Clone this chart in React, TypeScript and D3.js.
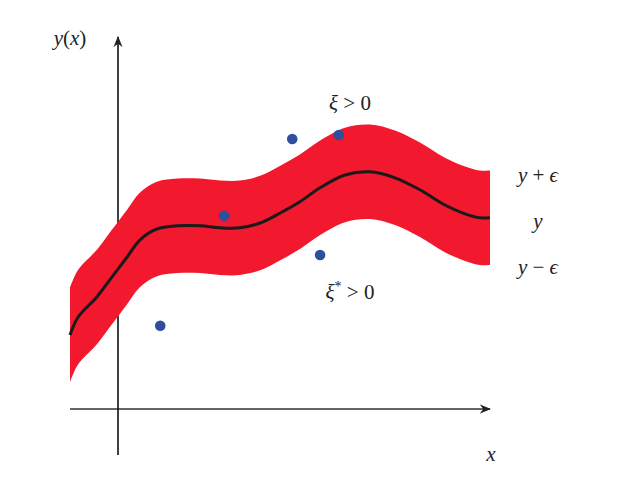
import React from 'react'
import * as d3 from 'd3'

// 曲线 y(x)
const curveX = [-1, -0.83, -0.44, -0.17, 0.19, 0.46, 0.81, 1.23, 1.71, 2.13, 2.54, 2.96, 3.38, 3.79, 4.21, 4.73, 5.25, 5.77, 6.29, 6.81, 7.23, 7.54, 7.75]
const curveY = [1.85, 2.3, 2.8, 3.23, 3.8, 4.23, 4.5, 4.58, 4.58, 4.53, 4.53, 4.65, 4.9, 5.18, 5.53, 5.85, 5.93, 5.78, 5.48, 5.1, 4.88, 4.78, 4.78]
const epsilon = 1.18

// 样本点
const pointX = [0.88, 2.21, 3.63, 4.6, 4.21]
const pointY = [2.08, 4.83, 6.75, 6.85, 3.85]

// 标签片段: [文字, 样式] 样式: i=斜体, n=正体, s=上标
type Part = [string, string]
const labels: Part[][] = [
  [['y', 'i'], [' + ', 'n'], ['ϵ', 'i']],
  [['y', 'i']],
  [['y', 'i'], [' − ', 'n'], ['ϵ', 'i']],
]

class App extends React.Component {
  svg: SVGSVGElement | null = null

  componentDidMount() {
    const width = 639
    const height = 480
    const x = d3.scaleLinear().domain([-1, 7.75]).range([70, 490])
    const y = d3.scaleLinear().domain([0, 9.3]).range([409, 37])

    const chart = d3.select(this.svg)
      .attr('width', width)
      .attr('height', height)

    const data = curveX.map((d, i) => ({ x: d, y: curveY[i] }))

    // 箭头
    chart.append('defs').append('marker')
      .attr('id', 'arrow')
      .attr('viewBox', '0 0 10 10')
      .attr('refX', 9)
      .attr('refY', 5)
      .attr('markerWidth', 7)
      .attr('markerHeight', 7)
      .attr('orient', 'auto')
      .append('path')
      .attr('d', 'M0,1 L10,5 L0,9 L3,5 Z')
      .attr('fill', '#222')

    // 坐标轴 (在带状区域之下)
    chart.append('line')
      .attr('x1', x(-1)).attr('x2', x(7.75))
      .attr('y1', y(0)).attr('y2', y(0))
      .attr('stroke', '#333')
      .attr('stroke-width', 1.6)
      .attr('marker-end', 'url(#arrow)')
    chart.append('line')
      .attr('x1', x(0)).attr('x2', x(0))
      .attr('y1', y(-1.15)).attr('y2', y(9.3))
      .attr('stroke', '#111')
      .attr('stroke-width', 1.6)
      .attr('marker-end', 'url(#arrow)')

    // 带状区域
    const area = d3.area<{ x: number, y: number }>()
      .x(d => x(d.x))
      .y0(d => y(d.y - epsilon))
      .y1(d => y(d.y + epsilon))
      .curve(d3.curveCatmullRom.alpha(0.5))
    chart.append('path')
      .datum(data)
      .attr('d', area)
      .attr('fill', '#f2182e')

    // 曲线
    const line = d3.line<{ x: number, y: number }>()
      .x(d => x(d.x))
      .y(d => y(d.y))
      .curve(d3.curveCatmullRom.alpha(0.5))
    chart.append('path')
      .datum(data)
      .attr('d', line)
      .attr('fill', 'none')
      .attr('stroke', '#1a1a1a')
      .attr('stroke-width', 3)

    // 点
    chart.selectAll('.pt')
      .data(pointX)
      .enter()
      .append('circle')
      .attr('class', 'pt')
      .attr('cx', d => x(d))
      .attr('cy', (d, i) => y(pointY[i]))
      .attr('r', 5.3)
      .attr('fill', '#2f4e9e')

    const font = "'Liberation Serif', 'DejaVu Serif', serif"
    const addText = (parts: Part[], px: number, py: number) => {
      const t = chart.append('text')
        .attr('x', px)
        .attr('y', py)
        .attr('text-anchor', 'middle')
        .attr('font-family', font)
        .attr('font-size', 21)
        .attr('fill', '#222')
        .style('white-space', 'pre')
      parts.forEach(([s, k], i) => {
        const sp = t.append('tspan')
          .attr('font-style', k === 'i' ? 'italic' : 'normal')
          .text(s)
        if (k === 's') sp.attr('font-size', 14).attr('dy', -8)
        else if (i > 0 && parts[i - 1][1] === 's') sp.attr('dy', 8)
      })
    }

    addText([['y', 'i'], ['(', 'n'], ['x', 'i'], [')', 'n']], 70, 45)
    addText([['ξ', 'i'], [' > 0', 'n']], 350, 110)
    addText([['ξ', 'i'], ['*', 's'], [' > 0', 'n']], 350, 299)
    labels.forEach((t, i) => addText(t, 538, 182 + i * 46))
    addText([['x', 'i']], 491, 461)
  }

  render() {
    return (
      <div style={{ position: 'absolute', left: 0, top: 0 }}>
        <svg ref={el => { this.svg = el }}></svg>
      </div>
    )
  }
}

export default App
